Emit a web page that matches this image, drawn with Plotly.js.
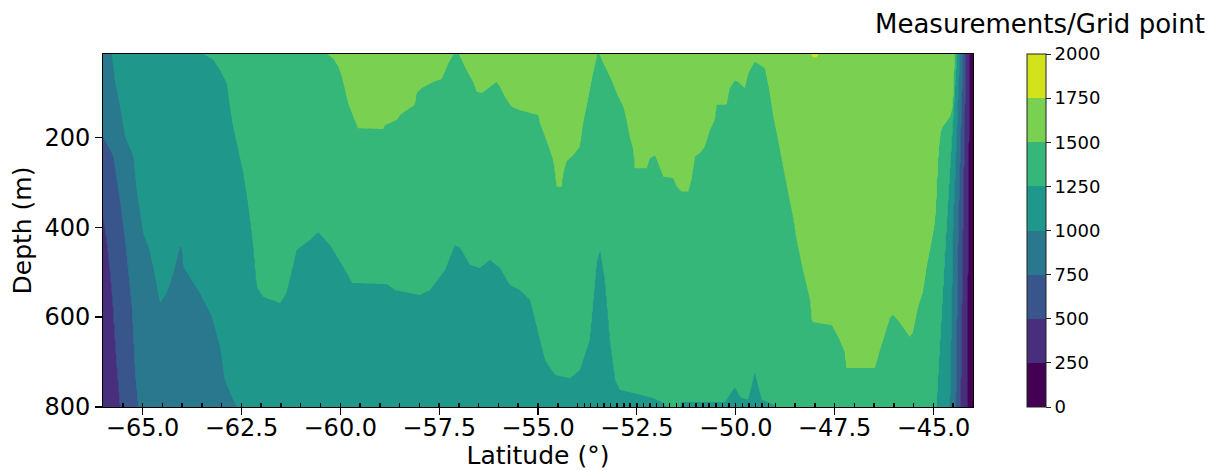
<!DOCTYPE html>
<html><head><meta charset="utf-8">
<script src="https://cdn.plot.ly/plotly-3.0.1.min.js"></script>
<style>html,body{margin:0;padding:0;background:#fff}</style>
</head><body><div id="chart" style="width:1218px;height:470px"></div>
<script>
// Contour boundaries: [latitude, depth] where the value crosses each level
// (depth < 15 means the crossing is above the top, > 800 means below the bottom)
const edge1750 = [[-66,-100],[-48.20,-100],[-48.12,10],[-48.05,22],[-47.95,22],[-47.88,10],[-47.80,-100],[-44,-100]];
const edge1500 = [[-66,-100],[-60.39,-100],[-60.34,15],[-60.18,25],[-60.05,43],[-59.96,65],[-59.88,95],[-59.80,125],[-59.67,154],[-59.55,180],[-58.91,182],[-58.87,173],[-58.57,162],[-58.49,151],[-58.32,140],[-58.11,128],[-58.07,102],[-57.94,91],[-57.65,77],[-57.44,71],[-57.35,54],[-57.27,36],[-57.14,17],[-57.06,5],[-56.97,21],[-56.85,43],[-56.72,65],[-56.64,77],[-56.55,99],[-56.42,102],[-56.26,91],[-56.05,77],[-55.96,88],[-55.84,110],[-55.67,132],[-55.46,140],[-55.20,146],[-54.99,151],[-54.95,169],[-54.82,199],[-54.70,228],[-54.61,254],[-54.57,280],[-54.53,310],[-54.40,310],[-54.36,280],[-54.28,254],[-54.11,240],[-53.94,221],[-53.86,169],[-53.77,132],[-53.69,95],[-53.60,54],[-53.52,25],[-53.49,5],[-53.39,28],[-53.26,51],[-53.14,73],[-52.97,110],[-52.84,132],[-52.76,162],[-52.68,199],[-52.59,228],[-52.55,269],[-52.25,269],[-52.17,247],[-52.04,240],[-51.96,258],[-51.83,288],[-51.58,291],[-51.49,310],[-51.37,321],[-51.20,321],[-51.12,295],[-51.03,243],[-50.91,236],[-50.78,221],[-50.65,184],[-50.53,162],[-50.48,128],[-50.23,128],[-50.15,91],[-50.02,74],[-49.94,77],[-49.77,91],[-49.68,58],[-49.52,32],[-49.26,47],[-49.22,65],[-49.14,102],[-49.05,154],[-48.93,206],[-48.80,266],[-48.67,325],[-48.55,377],[-48.46,429],[-48.30,495],[-48.12,562],[-48.07,611],[-47.57,618],[-47.37,651],[-47.24,678],[-47.21,713],[-46.48,713],[-46.35,673],[-46.23,640],[-46.10,602],[-46.03,595],[-45.90,607],[-45.72,629],[-45.60,644],[-45.52,635],[-45.39,578],[-45.27,547],[-45.17,489],[-45.04,429],[-44.96,389],[-44.91,317],[-44.89,262],[-44.84,206],[-44.79,180],[-44.58,155],[-44.51,133],[-44.46,15],[-44.43,-100],[-44,-100]];
const edge1250 = [[-66,-100],[-63.55,-100],[-63.46,15],[-63.21,28],[-63.04,51],[-62.87,80],[-62.79,132],[-62.71,177],[-62.58,228],[-62.45,280],[-62.37,325],[-62.28,384],[-62.20,444],[-62.11,533],[-61.95,555],[-61.52,569],[-61.36,547],[-61.10,451],[-60.77,429],[-60.56,411],[-60.26,440],[-59.88,495],[-59.70,524],[-58.82,527],[-58.62,540],[-57.99,551],[-57.73,540],[-57.35,495],[-57.10,440],[-56.97,446],[-56.72,484],[-56.47,491],[-56.22,473],[-55.96,491],[-55.71,529],[-55.46,540],[-55.20,562],[-54.95,651],[-54.82,696],[-54.57,729],[-54.19,736],[-53.94,718],[-53.69,651],[-53.51,478],[-53.43,451],[-53.31,518],[-53.18,651],[-53.05,740],[-52.93,762],[-52.60,769],[-52.09,780],[-51.84,791],[-51.74,800],[-51.72,950],[-51.44,950],[-51.39,789],[-50.91,789],[-50.27,789],[-50.15,773],[-50.02,756],[-49.89,778],[-49.69,784],[-49.59,751],[-49.52,722],[-49.44,751],[-49.34,784],[-49.14,791],[-48.96,800],[-48.93,950],[-44.96,950],[-44.92,800],[-44.67,406],[-44.40,15],[-44.38,-100],[-44,-100]];
const edge1000 = [[-66,-100],[-65.82,-100],[-65.78,15],[-65.70,73],[-65.57,132],[-65.44,199],[-65.23,243],[-65.15,317],[-64.98,414],[-64.85,444],[-64.73,488],[-64.56,569],[-64.39,547],[-64.22,503],[-64.05,444],[-64.01,444],[-63.97,488],[-63.76,518],[-63.55,547],[-63.25,599],[-63.04,666],[-62.92,740],[-62.71,784],[-62.62,800],[-62.59,950],[-44.61,950],[-44.58,800],[-44.50,406],[-44.33,15],[-44.31,-100],[-44,-100]];
const edge750 = [[-66,199],[-65.82,228],[-65.74,243],[-65.61,317],[-65.53,369],[-65.44,429],[-65.27,578],[-65.19,724],[-65.11,800],[-65.08,950],[-44.48,950],[-44.43,800],[-44.37,406],[-44.25,15],[-44.22,-100],[-44,-100]];
const edge500 = [[-66,377],[-65.91,429],[-65.82,502],[-65.75,577],[-65.70,651],[-65.64,724],[-65.57,800],[-65.54,950],[-44.35,950],[-44.31,800],[-44.25,406],[-44.18,15],[-44.16,-100],[-44,-100]];
const edge250 = [[-66,950],[-44.18,950],[-44.14,800],[-44.12,406],[-44.08,15],[-44.05,-100],[-44,-100]];

const levelValues = [250, 500, 750, 1000, 1250, 1500, 1750];
const levelEdges = [edge250, edge500, edge750, edge1000, edge1250, edge1500, edge1750];

// station latitudes shown as small ticks on the bottom axis
const stationLats = [-65.5,-65,-64.5,-64,-63.5,-63,-62.5,-62,-61.5,-61,-60.5,-60,-59.5,-59,-58.5,-58,-57.5,-57,-56.5,-56,-55.5,-55,-54.5,-54,
  -53.83,-53.67,-53.5,-53.33,-53.17,-53,-52.83,-52.67,-52.5,-52.33,-52.17,-52,-51.83,-51.67,-51.5,-51.33,-51.17,-51,-50.83,-50.67,-50.5,-50.33,-50.17,-50,-49.83,-49.67,-49.5,-49.33,-49.17,-49,
  -48.5,-48,-47.5,-47,-46.5,-46,-45.5,-45,-44.5];

const xTickVals = [-65, -62.5, -60, -57.5, -55, -52.5, -50, -47.5, -45];
const xTickText = ['\u221265.0','\u221262.5','\u221260.0','\u221257.5','\u221255.0','\u221252.5','\u221250.0','\u221247.5','\u221245.0'];
const yTickVals = [200, 400, 600, 800];
const yTickText = ['200','400','600','800'];
const cbTickVals = [0, 250, 500, 750, 1000, 1250, 1500, 1750, 2000];
const cbTickText = ['0','250','500','750','1000','1250','1500','1750','2000'];
const bandColors = ['#440154','#472f7d','#39568c','#2a788e','#1f988b','#35b779','#7ad151','#d2e21b'];

// grid
const latStep = 0.025, depthStep = 5;
const gridLat = [], gridDepth = [];
for (let i = 0; i <= Math.round(22 / latStep); i++) gridLat.push(+(-66 + i * latStep).toFixed(4));
for (let d = 15; d <= 800; d += depthStep) gridDepth.push(d);

function interp(edge, x) {
  if (x <= edge[0][0]) return edge[0][1];
  for (let k = 1; k < edge.length; k++) {
    if (x <= edge[k][0]) {
      const [x0, y0] = edge[k - 1], [x1, y1] = edge[k];
      return y0 + (y1 - y0) * (x - x0) / (x1 - x0);
    }
  }
  return edge[edge.length - 1][1];
}
const colEdges = gridLat.map(lat => levelEdges.map(e => interp(e, lat)));
const w = 4;
const z = gridDepth.map(d => gridLat.map((lat, i) => {
  let v = 125;
  colEdges[i].forEach(fd => {
    const h = Math.max(0, Math.min(1, 0.5 + (fd - d) / (2 * w)));
    v += 250 * h;
  });
  return v;
}));

// contour fill: band k is evaluated at (k+1)/9
const contourScale = [[0, bandColors[0]]];
bandColors.forEach((c, k) => contourScale.push([(k + 1) / 9, c]));
contourScale.push([1, bandColors[7]]);
// colorbar: hard steps every 250 between 0 and 2000
const barScale = [];
bandColors.forEach((c, k) => { barScale.push([k / 8, c]); barScale.push([(k + 1) / 8, c]); });

const font = {family: 'DejaVu Sans', color: '#000'};
const contour = {
  type: 'contour', x: gridLat, y: gridDepth, z: z,
  autocontour: false,
  contours: {start: 0, end: 2000, size: 250, coloring: 'fill', showlines: false},
  line: {width: 0, smoothing: 0},
  colorscale: contourScale, showscale: false,
  hoverinfo: 'skip'
};
const scaleHolder = {
  type: 'scatter', mode: 'markers', x: [-100], y: [400], hoverinfo: 'skip',
  marker: {
    size: 1, color: [1000], cmin: 0, cmax: 2000, colorscale: barScale, showscale: true,
    colorbar: {
      x: (1027 - 103) / 870, xanchor: 'left', thickness: 19, thicknessmode: 'pixels',
      len: 1, lenmode: 'fraction', y: 0.5, yanchor: 'middle', xpad: 0, ypad: 0,
      outlinewidth: 1, outlinecolor: '#222', ticks: 'outside', ticklen: 5, tickwidth: 1, tickcolor: '#222',
      tickfont: {family: 'DejaVu Sans', size: 18, color: '#000'},
      tickmode: 'array', tickvals: cbTickVals, ticktext: cbTickText
    }
  }
};
const layout = {
  width: 1218, height: 470,
  margin: {l: 103, r: 245, t: 54, b: 63},
  paper_bgcolor: '#fff', plot_bgcolor: '#fff',
  font: font, showlegend: false,
  xaxis: {
    range: [-66, -44], showline: true, mirror: true, linecolor: '#000', linewidth: 1,
    ticks: 'outside', ticklen: 7, tickwidth: 1.2, tickcolor: '#000',
    tickmode: 'array', tickvals: xTickVals, ticktext: xTickText,
    tickfont: {size: 24}, showgrid: false, zeroline: false, ticklabelstandoff: -8,
    title: {text: 'Latitude (\u00b0)', font: {size: 25}, standoff: 14},
    minor: {tickmode: 'array', tickvals: stationLats, ticks: 'inside', ticklen: 4, tickwidth: 1.5, tickcolor: '#000', showgrid: false}
  },
  yaxis: {
    range: [800, 15], showline: true, mirror: true, linecolor: '#000', linewidth: 1,
    ticks: 'outside', ticklen: 7, tickwidth: 1.2, tickcolor: '#000',
    tickmode: 'array', tickvals: yTickVals, ticktext: yTickText,
    tickfont: {size: 24}, showgrid: false, zeroline: false,
    title: {text: 'Depth (m)', font: {size: 25}, standoff: 5}
  },
  annotations: [{
    xref: 'paper', yref: 'paper', x: (1040 - 103) / 870, y: 1 + (54 - 24) / 353,
    xanchor: 'center', yanchor: 'middle', showarrow: false,
    text: 'Measurements/Grid point', font: {family: 'DejaVu Sans', size: 26, color: '#000'}
  }]
};
Plotly.newPlot('chart', [contour, scaleHolder], layout, {staticPlot: true, displayModeBar: false});
</script>
</body></html>
